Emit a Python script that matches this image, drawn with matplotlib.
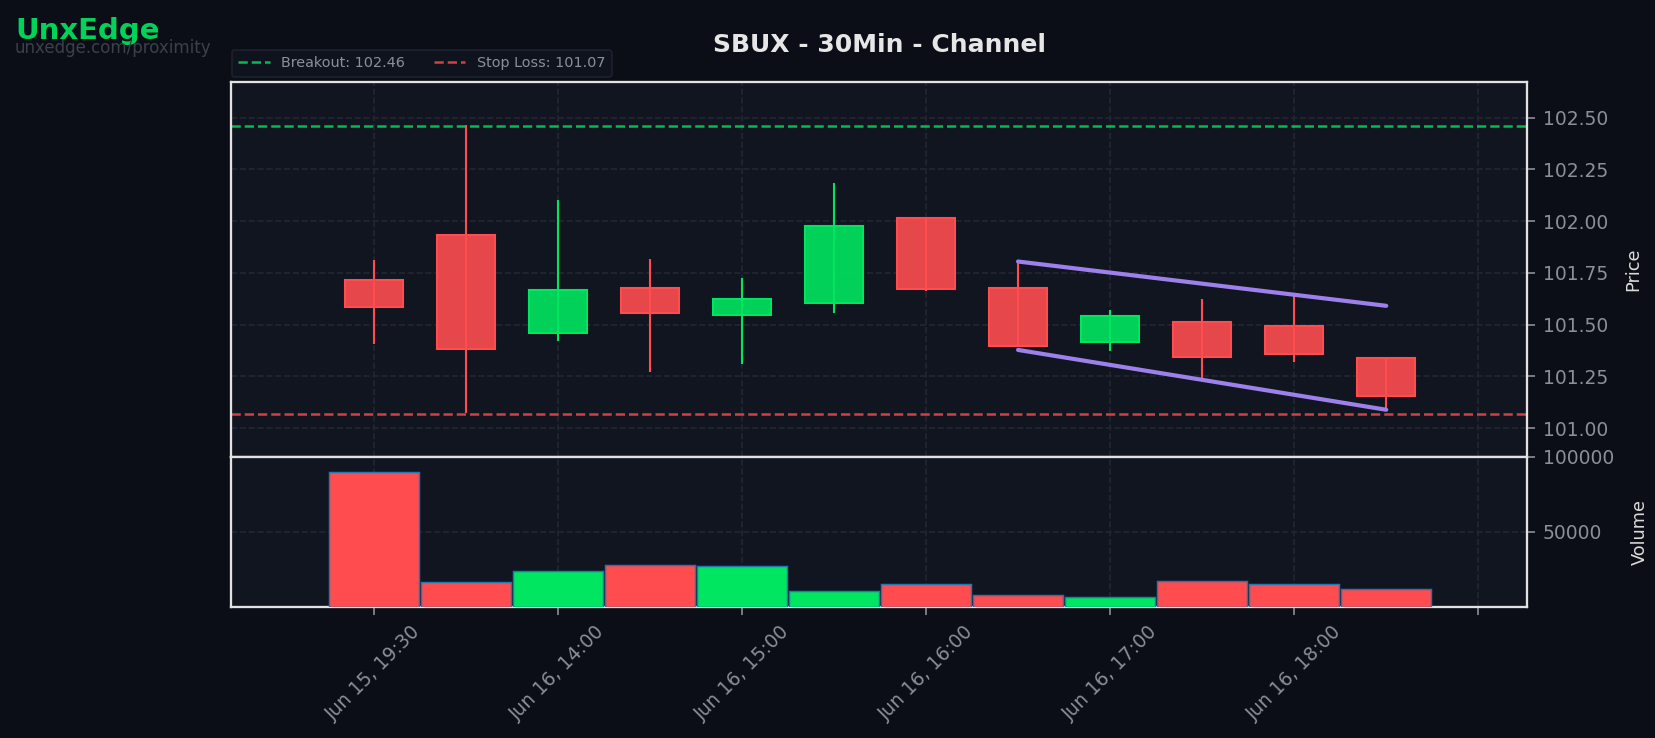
import numpy as np
import matplotlib
matplotlib.use("Agg")
import matplotlib.pyplot as plt
from matplotlib.colors import to_rgba
from matplotlib.lines import Line2D
from matplotlib.ticker import FuncFormatter

# candle data (30 min bars)
times = ["Jun 15, 19:30", "Jun 16, 13:30", "Jun 16, 14:00", "Jun 16, 14:30",
         "Jun 16, 15:00", "Jun 16, 15:30", "Jun 16, 16:00", "Jun 16, 16:30",
         "Jun 16, 17:00", "Jun 16, 17:30", "Jun 16, 18:00", "Jun 16, 18:30"]
opens = [101.715, 101.932, 101.462, 101.676, 101.549, 101.607,
         102.016, 101.677, 101.418, 101.512, 101.493, 101.338]
highs = [101.813, 102.465, 102.103, 101.818, 101.726, 102.185,
         102.016, 101.808, 101.571, 101.625, 101.639, 101.338]
lows = [101.407, 101.075, 101.422, 101.272, 101.312, 101.558,
        101.663, 101.393, 101.375, 101.242, 101.322, 101.084]
closes = [101.587, 101.382, 101.666, 101.554, 101.623, 101.977,
          101.670, 101.399, 101.543, 101.343, 101.360, 101.155]
volumes = [90000, 16400, 24150, 28150, 27050, 10400,
           15100, 7800, 6650, 17600, 15100, 11750]

breakout = 102.46
stop_loss = 101.07
# channel lines: (start idx, end idx), (start price, end price)
chan_x = [7, 11]
chan_upper = [101.805, 101.591]
chan_lower = [101.378, 101.089]

BG = "#0b0e17"
PANEL = "#111520"
GRID = "#222632"
GREEN = "#00e660"
RED = "#ff4d4f"
PURPLE = "#9d80ea"
TICK = "#8a8f99"

plt.rcParams["font.family"] = "DejaVu Sans"

fig = plt.figure(figsize=(1655 / 150, 738 / 150), dpi=150, facecolor=BG)
ax = fig.add_axes([0.1396, 0.3808, 0.7831, 0.5081])
axv = fig.add_axes([0.1396, 0.1775, 0.7831, 0.2033], sharex=ax)

x = np.arange(len(opens))
up = np.array(closes) >= np.array(opens)
cols = [GREEN if u else RED for u in up]

for a in (ax, axv):
    a.set_facecolor(PANEL)
    for s in a.spines.values():
        s.set_color("#e2e2e2")
        s.set_linewidth(1.1)
    a.grid(True, color=GRID, linestyle="--", linewidth=0.8)
    a.set_axisbelow(True)
    a.yaxis.tick_right()
    a.yaxis.set_label_position("right")
    a.tick_params(colors=TICK, labelsize=9, length=4, width=0.8)

# candles
ax.vlines(x, lows, highs, colors=cols, linewidth=1.0, zorder=2)
bottoms = np.minimum(opens, closes)
heights = np.abs(np.array(closes) - np.array(opens))
ax.bar(x, heights, bottom=bottoms, width=0.63,
       color=[to_rgba(c, 0.9) for c in cols], edgecolor=cols,
       linewidth=1.0, zorder=3)

ax.axhline(breakout, color=GREEN, alpha=0.8, linestyle="--", linewidth=1.2, zorder=1)
ax.axhline(stop_loss, color=RED, alpha=0.8, linestyle="--", linewidth=1.2, zorder=1)
ax.plot(chan_x, chan_upper, color=PURPLE, linewidth=2.0, solid_capstyle="round", zorder=4)
ax.plot(chan_x, chan_lower, color=PURPLE, linewidth=2.0, solid_capstyle="round", zorder=4)

ax.set_xlim(-1.55, 12.53)
ax.set_ylim(100.861, 102.672)
ax.set_yticks(np.arange(101.0, 102.51, 0.25))
ax.yaxis.set_major_formatter(FuncFormatter(lambda v, p: f"{v:.2f}"))
ax.tick_params(axis="x", bottom=False, labelbottom=False)
ax.set_ylabel("Price", color="#dcdcdc", fontsize=8.5, labelpad=8)
ax.set_title("SBUX - 30Min - Channel", color="#e6e6e6", fontsize=12,
             fontweight="bold", pad=14.5)

handles = [Line2D([], [], color=GREEN, alpha=0.8, linestyle="--", linewidth=1.2),
           Line2D([], [], color=RED, alpha=0.8, linestyle="--", linewidth=1.2)]
leg = ax.legend(handles, [f"Breakout: {breakout:.2f}", f"Stop Loss: {stop_loss:.2f}"],
                loc="lower left", bbox_to_anchor=(-0.0035, 1.0), ncol=2, fontsize=6.9,
                frameon=True, facecolor="#111520", edgecolor="#222632",
                labelcolor=TICK, borderaxespad=0.35, handlelength=2.2,
                columnspacing=2.0, borderpad=0.45)
leg.get_frame().set_linewidth(0.8)

# volume
axv.bar(x, volumes, width=0.98, color=cols, edgecolor="#1f77b4", linewidth=0.7, zorder=3)
axv.set_ylim(0, 100000)
axv.set_yticks([50000, 100000])
axv.set_ylabel("Volume", color="#dcdcdc", fontsize=8.5, labelpad=8)
axv.set_xticks(range(0, 13, 2))
axv.xaxis.set_major_formatter(
    FuncFormatter(lambda v, p: times[int(v)] if 0 <= int(v) < len(times) else ""))
for lab in axv.get_xticklabels():
    lab.set_rotation(45)

fig.text(0.009, 0.958, "UnxEdge", color="#00d35a", fontsize=14,
         fontweight="bold", va="center", ha="left")
fig.text(0.009, 0.935, "unxedge.com/proximity", color="#3b404b", fontsize=8,
         va="center", ha="left")

fig.savefig("out.png", dpi=150, facecolor=BG)
